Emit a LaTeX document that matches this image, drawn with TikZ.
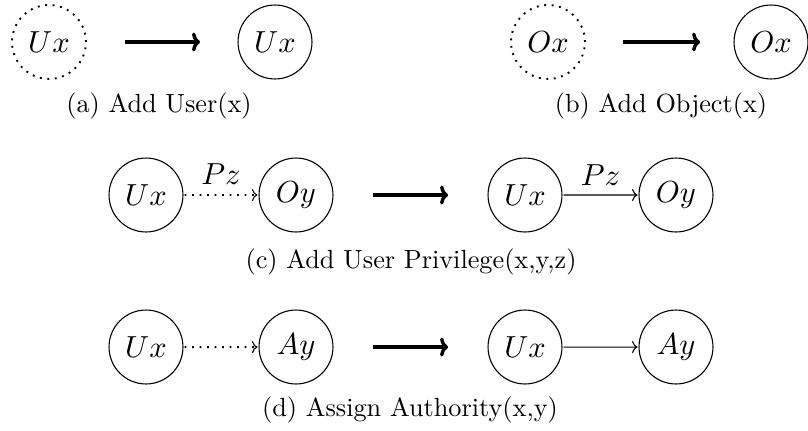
\RequirePackage{fix-cm}
\documentclass[tikz,border=0pt]{standalone}
\usetikzlibrary{arrows.meta}
\begin{document}
% Drawn at 10pt text size and magnified, so the glyphs keep the 10pt design weight.
\begin{tikzpicture}[scale=2.9, x=0.34483pt, y=0.34483pt,
  every node/.style={transform shape},
  state/.style={circle, draw, line width=1.1pt, minimum size=25.5pt, inner sep=0pt,
                font=\fontsize{10.5}{12.6}\selectfont},
  ghost/.style={state, line width=1.9pt, dash pattern=on 1.9pt off 5.6pt},
  caption/.style={font=\fontsize{10}{12}\selectfont, scale=0.905},
  edgelabel/.style={font=\fontsize{10.5}{12.6}\selectfont, above, inner sep=0.7pt, yshift=2pt},
  link/.style={line width=1.1pt, -{To[length=5.5pt,width=12pt,line width=1.1pt]}},
  pending/.style={link, line width=1.9pt, dash pattern=on 1.9pt off 5.6pt},
  becomes/.style={line width=3.4pt, -{To[length=8pt,width=19pt]}}
]
\useasboundingbox (0,0) rectangle (808,-430);

% (a) Add User(x)
\node[ghost] (a1) at (49,-42) {$Ux$};
\node[state] (a2) at (275,-42) {$Ux$};
\coordinate (aS) at (125,-42);
\coordinate (aT) at (200,-42);
\draw[becomes] (aS) -- (aT);
\node[caption] (acap) at (159,-106) {(a) Add User(x)};

% (b) Add Object(x)
\node[ghost] (b1) at (548,-42) {$Ox$};
\node[state] (b2) at (771,-42) {$Ox$};
\coordinate (bS) at (623,-42);
\coordinate (bT) at (700,-42);
\draw[becomes] (bS) -- (bT);
\node[caption] (bcap) at (661,-106) {(b) Add Object(x)};

% (c) Add User Privilege(x,y,z)
\node[state] (c1) at (146,-195) {$Ux$};
\node[state] (c2) at (296,-195) {$Oy$};
\draw[pending] (c1) -- node[edgelabel] (cl1) {$Pz$} (c2);
\coordinate (cS) at (373,-195);
\coordinate (cT) at (448,-195);
\draw[becomes] (cS) -- (cT);
\node[state] (c3) at (525,-195) {$Ux$};
\node[state] (c4) at (676,-195) {$Oy$};
\draw[link] (c3) -- node[edgelabel] (cl2) {$Pz$} (c4);
\node[caption] (ccap) at (411,-262) {(c) Add User Privilege(x,y,z)};

% (d) Assign Authority(x,y)
\node[state] (d1) at (146,-347) {$Ux$};
\node[state] (d2) at (296,-347) {$Ay$};
\draw[pending] (d1) -- (d2);
\coordinate (dS) at (373,-347);
\coordinate (dT) at (448,-347);
\draw[becomes] (dS) -- (dT);
\node[state] (d3) at (525,-347) {$Ux$};
\node[state] (d4) at (676,-347) {$Ay$};
\draw[link] (d3) -- (d4);
\node[caption] (dcap) at (410,-410) {(d) Assign Authority(x,y)};
\end{tikzpicture}
\end{document}
